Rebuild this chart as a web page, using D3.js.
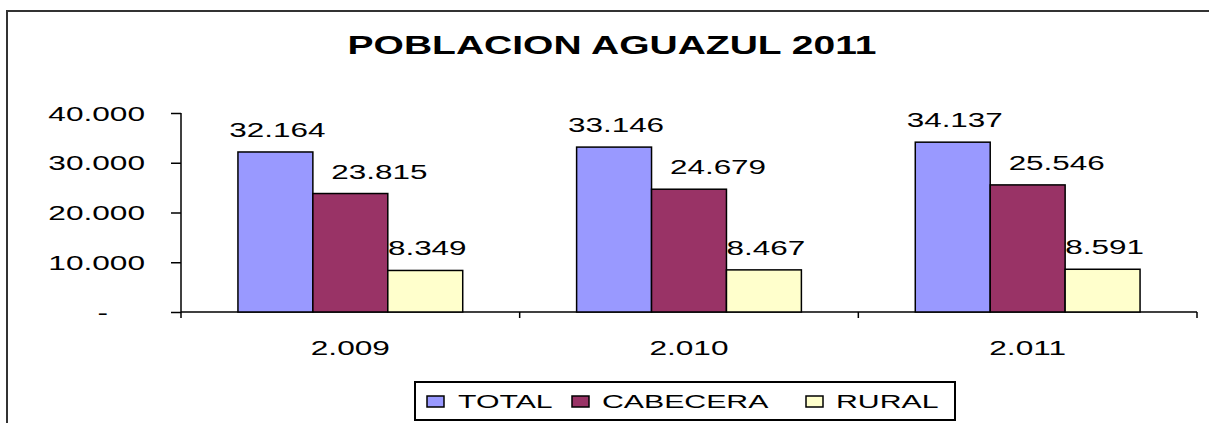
<!DOCTYPE html>
<html>
<head>
<meta charset="utf-8">
<script src="https://cdn.jsdelivr.net/npm/d3@7"></script>
<style>
  body { margin: 0; background: #fff; overflow: hidden; }
  text { font-family: "Liberation Sans", Arial, sans-serif; fill: #000; }
</style>
</head>
<body>
<div id="chart"></div>
<script>
// data
var years = ["2.009", "2.010", "2.011"];
var seriesNames = ["TOTAL", "CABECERA", "RURAL"];
var total = [32164, 33146, 34137];
var cabecera = [23815, 24679, 25546];
var rural = [8349, 8467, 8591];
var yTicks = [0, 10000, 20000, 30000, 40000];

var colors = ["#9999ff", "#993366", "#ffffcc"];
var labelShift = [2, 29, 2];   // excel nudged the middle labels to the right

var width = 1209, height = 423;

var rows = years.map(function(y, i) {
    return {year: y, values: [total[i], cabecera[i], rural[i]]};
});

var es = d3.formatLocale({decimal: ",", thousands: ".", grouping: [3], currency: ["$", ""]});
var fmt = es.format(",d");

// the original picture is stretched sideways, so text gets widened too
function stretch(sel, k) {
    sel.each(function() {
        var len = this.getComputedTextLength();
        d3.select(this)
            .attr("textLength", len * k)
            .attr("lengthAdjust", "spacingAndGlyphs");
    });
}

var svg = d3.select("#chart").append("svg")
    .attr("width", width)
    .attr("height", height)
    .style("display", "block");

// outer frame: only left and top edges are inside the picture
svg.append("path")
    .attr("d", "M7," + (height + 5) + "V11H" + (width + 5))
    .attr("fill", "none")
    .attr("stroke", "#333")
    .attr("stroke-width", 2);

var title = svg.append("text")
    .attr("x", 612)
    .attr("y", 54)
    .attr("text-anchor", "middle")
    .style("font-size", "26px")
    .style("font-weight", "bold")
    .text("POBLACION AGUAZUL 2011");
stretch(title, 1.5);

var x0 = d3.scaleBand()
    .domain(years)
    .range([181, 1197])
    .paddingInner(0)
    .paddingOuter(0);

var x1 = d3.scaleBand()
    .domain(seriesNames)
    .range([0, x0.bandwidth()])
    .paddingInner(0)
    .paddingOuter(0.76);

var y = d3.scaleLinear()
    .domain([0, 40000])
    .range([312, 113]);

// y axis
var yAxis = svg.append("g")
    .attr("transform", "translate(181,0)")
    .call(d3.axisLeft(y)
        .tickValues(yTicks)
        .tickSize(10)
        .tickPadding(26)
        .tickFormat(function(d) { return d === 0 ? "-" : fmt(d); }));

yAxis.select(".domain").remove();
yAxis.selectAll("line").attr("stroke", "#000").attr("stroke-width", 1.5);
yAxis.selectAll("text")
    .style("font-size", "20px")
    .attr("dy", "0.36em")
    .filter(function(d) { return d === 0; })
    .attr("x", -73);
stretch(yAxis.selectAll("text"), 1.58);

svg.append("line")
    .attr("x1", 181).attr("x2", 181)
    .attr("y1", y(40000)).attr("y2", y(0) + 6)
    .attr("stroke", "#000")
    .attr("stroke-width", 1.5);

// x axis
svg.append("line")
    .attr("x1", 181).attr("x2", x0.range()[1])
    .attr("y1", y(0)).attr("y2", y(0))
    .attr("stroke", "#000")
    .attr("stroke-width", 1.5);

var bounds = years.slice(1).map(function(d) { return x0(d); }).concat([x0.range()[1]]);
svg.selectAll(".xtick")
    .data(bounds)
  .enter().append("line")
    .attr("class", "xtick")
    .attr("x1", function(d) { return d; })
    .attr("x2", function(d) { return d; })
    .attr("y1", y(0))
    .attr("y2", y(0) + 6)
    .attr("stroke", "#000")
    .attr("stroke-width", 1.5);

var xLabels = svg.selectAll(".xlabel")
    .data(years)
  .enter().append("text")
    .attr("class", "xlabel")
    .attr("x", function(d) { return x0(d) + x0.bandwidth() / 2; })
    .attr("y", 355)
    .attr("text-anchor", "middle")
    .style("font-size", "20px")
    .text(function(d) { return d; });
stretch(xLabels, 1.58);

// value labels go under the bars, like the original
var groups = svg.selectAll(".grp")
    .data(rows)
  .enter().append("g")
    .attr("class", "grp")
    .attr("transform", function(d) { return "translate(" + x0(d.year) + ",0)"; });

var vals = groups.selectAll(".val")
    .data(function(d) { return d.values; })
  .enter().append("text")
    .attr("class", "val")
    .attr("x", function(d, i) { return x1(seriesNames[i]) + x1.bandwidth() / 2 + labelShift[i]; })
    .attr("y", function(d) { return y(d) - 15; })
    .attr("text-anchor", "middle")
    .style("font-size", "20px")
    .text(function(d) { return fmt(d); });
stretch(vals, 1.57);

groups.selectAll(".bar")
    .data(function(d) { return d.values; })
  .enter().append("rect")
    .attr("class", "bar")
    .attr("x", function(d, i) { return x1(seriesNames[i]); })
    .attr("y", function(d) { return y(d); })
    .attr("width", x1.bandwidth())
    .attr("height", function(d) { return y(0) - y(d); })
    .attr("fill", function(d, i) { return colors[i]; })
    .attr("stroke", "#000")
    .attr("stroke-width", 1.5);

// legend
svg.append("rect")
    .attr("x", 415)
    .attr("y", 382)
    .attr("width", 540)
    .attr("height", 38)
    .attr("fill", "#fff")
    .attr("stroke", "#000")
    .attr("stroke-width", 2);

var legendX = [427, 572, 806];
var leg = svg.selectAll(".leg")
    .data(seriesNames)
  .enter().append("g")
    .attr("class", "leg")
    .attr("transform", function(d, i) { return "translate(" + legendX[i] + ",0)"; });

leg.append("rect")
    .attr("x", 0)
    .attr("y", 396)
    .attr("width", 17)
    .attr("height", 11)
    .attr("fill", function(d, i) { return colors[i]; })
    .attr("stroke", "#000")
    .attr("stroke-width", 1.5);

var legText = leg.append("text")
    .attr("x", function(d, i) { return i === 0 ? 31 : 30; })
    .attr("y", 408)
    .style("font-size", "18px")
    .text(function(d) { return d; });
stretch(legText, 1.68);
</script>
</body>
</html>
